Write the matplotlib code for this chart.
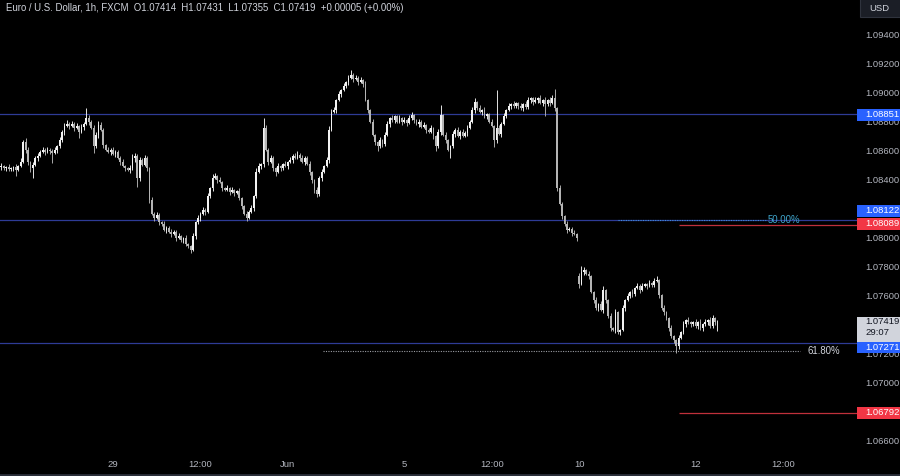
import numpy as np
import matplotlib
matplotlib.use("Agg")
import matplotlib.pyplot as plt
import matplotlib.transforms as mtransforms
from matplotlib.patches import Rectangle
from matplotlib.lines import Line2D

# ---------------- data (EUR/USD 1h, FXCM) ----------------
closes = [
    1.08485, 1.08492, 1.08478, 1.08485, 1.08471, 1.08478, 1.08485, 1.08465, 1.08492, 1.08520,
    1.08657, 1.08604, 1.08520, 1.08478, 1.08499, 1.08548, 1.08562, 1.08590, 1.08604, 1.08590,
    1.08604, 1.08597, 1.08583, 1.08604, 1.08629, 1.08671, 1.08727, 1.08768, 1.08782, 1.08768,
    1.08782, 1.08754, 1.08768, 1.08727, 1.08761, 1.08782, 1.08822, 1.08796, 1.08754, 1.08629,
    1.08706, 1.08775, 1.08741, 1.08636, 1.08604, 1.08590, 1.08604, 1.08576, 1.08590, 1.08548,
    1.08520, 1.08492, 1.08478, 1.08465, 1.08478, 1.08548, 1.08562, 1.08410, 1.08534, 1.08499,
    1.08548, 1.08478, 1.08257, 1.08162, 1.08134, 1.08155, 1.08106, 1.08092, 1.08052, 1.08066,
    1.08038, 1.08024, 1.08038, 1.07996, 1.08010, 1.07982, 1.07996, 1.07954, 1.07940, 1.07914,
    1.08010, 1.08106, 1.08134, 1.08162, 1.08190, 1.08176, 1.08285, 1.08340, 1.08410, 1.08423,
    1.08396, 1.08382, 1.08340, 1.08327, 1.08340, 1.08313, 1.08327, 1.08306, 1.08320, 1.08271,
    1.08215, 1.08162, 1.08134, 1.08176, 1.08203, 1.08285, 1.08451, 1.08492, 1.08506, 1.08754,
    1.08604, 1.08520, 1.08548, 1.08478, 1.08451, 1.08492, 1.08478, 1.08506, 1.08492, 1.08520,
    1.08534, 1.08562, 1.08548, 1.08569, 1.08548, 1.08520, 1.08548, 1.08506, 1.08451, 1.08396,
    1.08327, 1.08299, 1.08410, 1.08451, 1.08492, 1.08534, 1.08741, 1.08864, 1.08878, 1.08947,
    1.08989, 1.09016, 1.09043, 1.09071, 1.09099, 1.09120, 1.09092, 1.09099, 1.09071, 1.09085,
    1.09057, 1.08947, 1.08878, 1.08796, 1.08706, 1.08657, 1.08629, 1.08671, 1.08643, 1.08706,
    1.08782, 1.08822, 1.08808, 1.08836, 1.08796, 1.08822, 1.08796, 1.08808, 1.08789, 1.08822,
    1.08843, 1.08808, 1.08782, 1.08796, 1.08761, 1.08775, 1.08741, 1.08727, 1.08754, 1.08699,
    1.08629, 1.08727, 1.08843, 1.08706, 1.08671, 1.08604, 1.08629, 1.08713, 1.08741, 1.08699,
    1.08727, 1.08699, 1.08720, 1.08754, 1.08796, 1.08878, 1.08933, 1.08891, 1.08864, 1.08878,
    1.08836, 1.08850, 1.08796, 1.08768, 1.08671, 1.08754, 1.08713, 1.08782, 1.08836, 1.08878,
    1.08905, 1.08919, 1.08905, 1.08926, 1.08905, 1.08891, 1.08919, 1.08898, 1.08947, 1.08961,
    1.08933, 1.08947, 1.08961, 1.08926, 1.08947, 1.08919, 1.08947, 1.08926, 1.08961, 1.08891,
    1.08340, 1.08231, 1.08148, 1.08092, 1.08052, 1.08059, 1.08031, 1.08024, 1.07996, 1.07679,
    1.07762, 1.07776, 1.07748, 1.07734, 1.07624, 1.07569, 1.07513, 1.07541, 1.07500, 1.07638,
    1.07569, 1.07458, 1.07375, 1.07362, 1.07486, 1.07348, 1.07362, 1.07513, 1.07569, 1.07596,
    1.07624, 1.07610, 1.07652, 1.07666, 1.07638, 1.07666, 1.07679, 1.07666, 1.07686, 1.07672,
    1.07700, 1.07706, 1.07603, 1.07513, 1.07486, 1.07444, 1.07375, 1.07320, 1.07293, 1.07251,
    1.07307, 1.07348, 1.07403, 1.07431, 1.07417, 1.07403, 1.07417, 1.07389, 1.07417, 1.07375,
    1.07403, 1.07417, 1.07431, 1.07389, 1.07445, 1.07414, 1.07419,
]
# upper / lower wick lengths in pips (0.0001)
wick_up_pips = [
    1, 2, 1, 1, 2, 1, 1, 2, 1, 3,   1.5, 3, 2, 1, 2, 1, 2, 1, 2, 1,
    2, 1, 1, 2, 1, 2, 1, 2, 3, 1,   2, 1, 2, 1, 2, 1, 7, 2, 1, 2,
    2, 3, 2, 1, 1, 2, 1, 2, 1, 1,   1, 2, 1, 1, 2, 3, 2, 1, 2, 1,
    2, 1, 1, 2, 1, 2, 1, 1, 2, 1,   1, 2, 1, 1, 2, 1, 1, 2, 1, 1,
    2, 1, 2, 1, 2, 1, 2, 1, 3, 2,   1, 2, 1, 1, 2, 1, 2, 1, 1, 2,
    1, 1, 2, 1, 2, 1, 3, 2, 1, 7,   2, 1, 2, 1, 1, 2, 1, 1, 2, 1,
    2, 1, 2, 3, 1, 2, 1, 1, 2, 1,   1, 2, 1, 2, 1, 2, 3, 2, 2, 1,
    2, 1, 2, 1, 2, 3.5, 1, 2, 1, 2, 1, 2, 1, 1, 2, 1, 1, 2, 1, 2,
    2, 1, 2, 1, 1, 2, 1, 2, 1, 2,   2, 1, 1, 2, 1, 2, 1, 1, 2, 1,
    1, 2, 7, 1, 2, 1, 1, 2, 1, 2,   1, 2, 1, 2, 1, 2, 3, 1, 2, 1,
    2, 1, 1, 2, 1, 26, 2, 1, 2, 1,  2, 1, 2, 1, 1, 2, 1, 2, 2, 1,
    1, 2, 1, 2, 1, 2, 1, 2, 2, 6,   1, 2, 1, 1, 2, 1, 1, 2, 1, 2,
    4, 2, 1, 2, 1, 1, 2, 1, 2, 3,   1, 1, 2, 1, 2, 1, 1, 2, 1, 2,
    1, 2, 1, 2, 1, 2, 1, 1, 2, 1,   2, 3, 1, 1, 2, 1, 1, 2, 1, 1,
    2, 1, 2, 1, 2, 1, 1, 2, 1, 2,   1, 2, 1, 2, 2, 1, 1.2,
]
wick_dn_pips = [
    1, 2, 1, 2, 1, 1, 2, 4, 1, 1,   1, 2, 2, 3, 7, 1, 2, 1, 1, 2,
    1, 2, 7, 1, 2, 1, 1, 2, 1, 2,   1, 2, 1, 4, 1, 2, 1, 2, 1, 5,
    1, 2, 1, 2, 1, 1, 2, 1, 2, 1,   2, 1, 2, 1, 2, 1, 3, 6, 2, 1,
    1, 2, 2, 1, 2, 1, 2, 1, 1, 2,   1, 2, 1, 2, 1, 1, 2, 1, 1, 2,
    1, 2, 1, 2, 1, 2, 1, 1, 2, 1,   2, 1, 2, 1, 1, 2, 1, 2, 1, 1,
    2, 1, 2, 1, 1, 2, 1, 1, 2, 2,   1, 2, 1, 2, 3, 1, 2, 1, 1, 2,
    1, 2, 1, 1, 2, 1, 2, 1, 2, 2,   2, 2, 1, 2, 1, 1, 2, 1, 1, 2,
    1, 2, 1, 1, 2, 1, 2, 1, 2, 1,   2, 1, 2, 1, 1, 2, 3, 1, 2, 1,
    1, 2, 1, 2, 1, 1, 2, 1, 2, 1,   1, 2, 1, 2, 1, 1, 2, 1, 1, 2,
    3, 1, 2, 1, 2, 1, 6, 1, 2, 1,   2, 1, 1, 2, 1, 1, 2, 1, 1, 2,
    1, 2, 1, 1, 5, 2, 1, 2, 1, 1,   1, 2, 1, 1, 2, 1, 2, 1, 1, 2,
    2, 1, 2, 1, 2, 8, 1, 2, 1, 2,   2, 1, 2, 1, 2, 1, 2, 1, 2, 3,
    1, 2, 1, 2, 1, 2, 1, 2, 1, 2,   2, 1, 2, 1, 2, 1, 2, 1, 2, 1,
    1, 2, 1, 1, 2, 1, 1, 2, 1, 1,   1, 1, 2, 1, 2, 1, 2, 1, 2, 5,
    2, 1, 1, 2, 1, 2, 1, 1, 2, 1,   2, 1, 2, 1, 1, 2, 5.9,
]
first_open = 1.08482
gap_bar = 239            # first bar of Monday Jun 10 (weekend gap)
gap_open = 1.07734

# time axis (bar numbers of the labelled times)
time_tick_bars = [47, 83, 119, 167, 203, 239, 287, 323]
time_tick_labels = ["29", "12:00", "Jun", "5", "12:00", "10", "12", "12:00"]

price_ticks = [1.094, 1.092, 1.090, 1.088, 1.086, 1.084, 1.082, 1.080,
               1.078, 1.076, 1.072, 1.070, 1.068, 1.066]

# drawn levels
blue_levels = [1.08851, 1.08122, 1.07271]
red_levels = [1.08089, 1.06792]
red_start_bar = 280.2
fib50_price, fib50_start, fib50_end = 1.08122, 255.0, 316.0
fib618_price, fib618_start, fib618_end = 1.07215, 133.5, 330.0
last_price = 1.07419
countdown = "29:07"

title = ("Euro / U.S. Dollar, 1h, FXCM  O1.07414  H1.07431  L1.07355  "
         "C1.07419  +0.00005 (+0.00%)")

# ---------------- figure ----------------
W, H = 900, 476
plot_w, plot_h = 857, 452
FONT = "Liberation Sans"
TXT = "#b2b5be"

fig = plt.figure(figsize=(W / 100, H / 100), dpi=100, facecolor="black")
ax = fig.add_axes([0, (H - plot_h) / H, plot_w / W, plot_h / H], facecolor="black")

ymax = 1.09636
ymin = ymax - 0.0000689 * plot_h
ppp = (ymax - ymin) / plot_h          # price per pixel
ax.set_ylim(ymin, ymax)
ax.set_xlim(0.44, 353.5)

c = np.array(closes)
o = np.concatenate([[first_open], c[:-1]])
o[gap_bar] = gap_open
hi = np.maximum(o, c) + np.array(wick_up_pips) * 1e-4
lo = np.minimum(o, c) - np.array(wick_dn_pips) * 1e-4
x = np.arange(len(c))
up = c >= o
cols = np.where(up, "#f2f2f2", "#b4b4b4")

ax.vlines(x, lo, hi, colors=cols, linewidth=0.65, zorder=3)
body = np.maximum(np.abs(c - o), 0.00006)
ax.bar(x, body, bottom=np.minimum(o, c), width=0.74, color=cols, linewidth=0, zorder=3)

# horizontal levels
for lv in blue_levels:
    ax.axhline(lv, color="#2e3b96", linewidth=0.9, zorder=2)
for lv in red_levels:
    ax.hlines(lv, red_start_bar, 353.5, colors="#c0303b", linewidth=0.9, zorder=2)

ax.hlines(fib50_price, fib50_start, fib50_end, colors="#3d8fd6", linewidth=0.8,
          linestyles=(0, (1, 1.2)), zorder=2.5)
ax.text(fib50_end + 0.8, fib50_price, "50.00%", color="#3fa5cc", fontsize=6.9,
        family=FONT, va="center", ha="left", zorder=4)
ax.hlines(fib618_price, fib618_start, fib618_end, colors="#9a9ca3", linewidth=0.8,
          linestyles=(0, (1, 1.2)), zorder=2.5)
ax.text(fib618_end + 3.0, fib618_price, "61.80%", color="#d1d4dc", fontsize=6.9,
        family=FONT, va="center", ha="left", zorder=4)

# axes styling
for s in ax.spines.values():
    s.set_visible(False)
ax.yaxis.tick_right()
ax.set_yticks(price_ticks)
ax.set_yticklabels([f"{p:.5f}" for p in price_ticks])
ax.tick_params(axis="y", length=0, pad=5.8, labelsize=6.8, labelcolor=TXT)
ax.set_xticks(time_tick_bars)
ax.set_xticklabels(time_tick_labels)
ax.tick_params(axis="x", length=0, pad=5.6, labelsize=6.8, labelcolor=TXT)
for lab in ax.get_xticklabels() + ax.get_yticklabels():
    lab.set_family(FONT)

# price-axis label boxes
trans = mtransforms.blended_transform_factory(ax.transAxes, ax.transData)
box_x0 = 1.0
box_w = (W - plot_w) / plot_w
text_x = 865 / plot_w
box_h = 12 * ppp

def axis_box(level, shift_px, face, label, tcolor):
    yc = level - shift_px * ppp
    ax.add_patch(Rectangle((box_x0, yc - box_h / 2), box_w, box_h, transform=trans,
                           facecolor=face, edgecolor="none", clip_on=False, zorder=6))
    ax.text(text_x, yc, label, transform=trans, color=tcolor, fontsize=6.8,
            family=FONT, va="center", ha="left", clip_on=False, zorder=7)

axis_box(blue_levels[0], 1, "#2962ff", f"{blue_levels[0]:.5f}", "white")
axis_box(blue_levels[1], -9, "#2962ff", f"{blue_levels[1]:.5f}", "white")
axis_box(red_levels[0], -1, "#f23645", f"{red_levels[0]:.5f}", "white")
axis_box(blue_levels[2], 4, "#2962ff", f"{blue_levels[2]:.5f}", "white")
axis_box(red_levels[1], 0, "#f23645", f"{red_levels[1]:.5f}", "white")

# current price box (two lines)
top = last_price + 5 * ppp
ax.add_patch(Rectangle((box_x0, top - 25 * ppp), box_w, 25 * ppp, transform=trans,
                       facecolor="#d1d4dc", edgecolor="none", clip_on=False, zorder=6))
ax.text(text_x, last_price, f"{last_price:.5f}", transform=trans, color="#131722",
        fontsize=6.8, family=FONT, va="center", ha="left", clip_on=False, zorder=7)
ax.text(text_x, last_price - 10.8 * ppp, countdown, transform=trans, color="#131722",
        fontsize=6.8, family=FONT, va="center", ha="left", clip_on=False, zorder=7)

# USD box at top right
fig.add_artist(Rectangle((860 / W, 1 - 17 / H), 42 / W, 19 / H, transform=fig.transFigure,
                         facecolor="#1b1e26", edgecolor="#2f333d", linewidth=0.8, zorder=5))
fig.text(879 / W, 1 - 8.5 / H, "USD", color="#d1d4dc", fontsize=6.8, family=FONT,
         ha="center", va="center", zorder=6)

# title
fig.text(6 / W, 1 - 8 / H, title, color="#d1d4dc", fontsize=6.9, family=FONT,
         ha="left", va="center")

# bottom border
fig.add_artist(Line2D([0, 1], [1.5 / H, 1.5 / H], transform=fig.transFigure,
                      color="#2a2e39", linewidth=2))

fig.savefig("out.png", dpi=100, facecolor="black")
